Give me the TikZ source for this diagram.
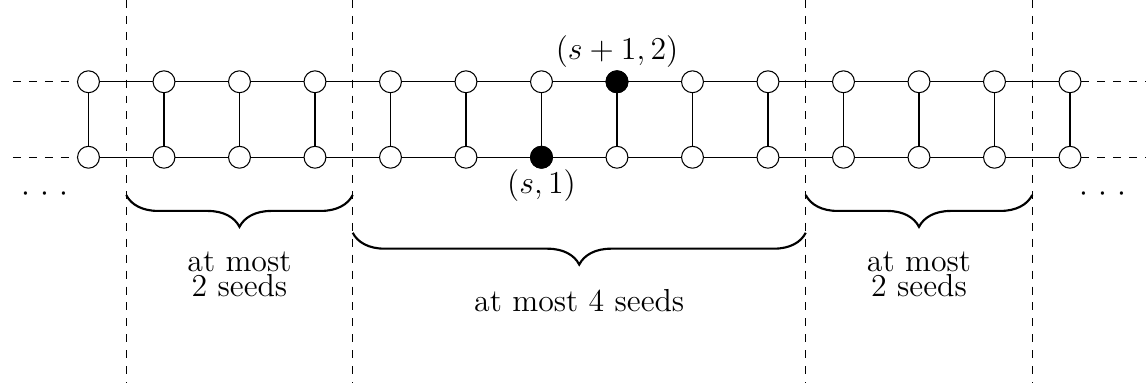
\documentclass[tikz,border=0pt]{standalone}
\usepackage{amsmath}
\usepackage{tikz}
\usetikzlibrary{positioning, decorations.pathreplacing}
\tikzset{
  sommet/.style={circle, draw, fill=white, inner sep=0pt, minimum size=0.29cm},
  graine/.style={sommet, fill=black},
  accolade/.style={decorate, decoration={brace, mirror, amplitude=12pt}, thick},
}

\begin{document}
\begin{tikzpicture}[font=\large]
    \useasboundingbox (-1.172,-2.989) rectangle (14.02,2.083);
    % séparations entre les blocs
    \foreach \x in {0.5,3.5,9.5,12.5}{
      \draw[dashed] (\x,2.083) -- (\x,-2.989);
    }
    % les deux rangées de l'échelle et les barreaux
    \foreach \i in {0,...,13}{
      \node[sommet] (b\i) at (\i,0) {};
      \node[sommet] (h\i) at (\i,1) {};
      \draw (b\i) -- (h\i);
    }
    \foreach \i [count=\j] in {0,...,12}{
      \draw (b\i) -- (b\j);
      \draw (h\i) -- (h\j);
    }
    % les deux graines
    \node[graine, label={[inner sep=0pt]below:$(s,1)$}] (g1) at (b6) {};
    \node[graine, label={[inner sep=1pt]above:$(s+1,2)$}] (g2) at (h7) {};
    % prolongements en pointillés
    \coordinate (bg) at (-1,0);
    \coordinate (hg) at (-1,1);
    \coordinate (bd) at (14,0);
    \coordinate (hd) at (14,1);
    \draw[dashed] (bg) -- (b0);
    \draw[dashed] (hg) -- (h0);
    \draw[dashed] (b13) -- (bd);
    \draw[dashed] (h13) -- (hd);
    \node[anchor=base] (pg) at (-0.576,-0.59) {$\cdot$\ $\cdot$\ $\cdot$};
    \node[anchor=base] (pd) at (13.44,-0.59) {$\cdot$\ $\cdot$\ $\cdot$};
    % accolades
    \draw[accolade] (0.5,-0.5) -- (3.5,-0.5);
    \draw[accolade] (3.5,-1) -- (9.5,-1);
    \draw[accolade] (9.5,-0.5) -- (12.5,-0.5);
    \node[align=center] (l1) at (2,-1.55) {at most\\[-4.6pt]2 seeds};
    \node (l2) at (6.5,-1.9) {at most 4 seeds};
    \node[align=center] (l3) at (11,-1.55) {at most\\[-4.6pt]2 seeds};
  \end{tikzpicture}
\end{document}
